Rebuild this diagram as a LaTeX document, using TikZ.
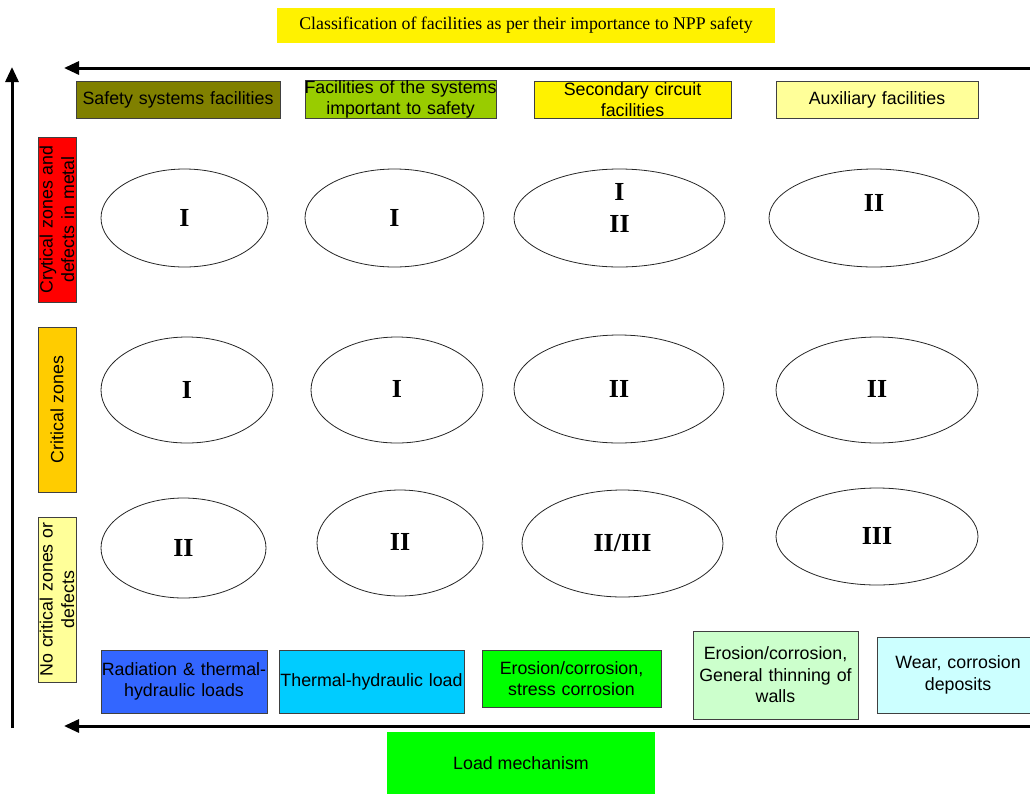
\documentclass[tikz,border=0pt]{standalone}
\usepackage{fontspec}
\setmainfont{Liberation Serif}
\setsansfont{Liberation Sans}
\usetikzlibrary{shapes.geometric,arrows.meta}
\tikzset{
  box/.style={draw=black!75, line width=0.9pt, inner sep=0pt, align=center,
    font=\sffamily\fontsize{17.8}{21.5}\selectfont},
  plain/.style={inner sep=0pt, align=center},
  ell/.style={ellipse, draw=black!85, line width=0.8pt, inner sep=0pt},
  num/.style={font=\bfseries\fontsize{26}{32}\selectfont, align=center},
  axis/.style={line width=3pt, -{Triangle[length=15pt,width=13pt]}},
}
\begin{document}
\begin{tikzpicture}[x=1pt,y=-1pt]
\useasboundingbox (0,0) rectangle (1030,793);
% title
\node[plain, fill=yellow, minimum width=498, minimum height=35,
  font=\fontsize{17.8}{20}\selectfont] (title) at (526,25.5)
  {Classification of facilities as per their importance to NPP safety};
% axes
\coordinate (topR) at (1032,68);
\coordinate (topL) at (64,68);
\coordinate (botR) at (1032,726);
\coordinate (botL) at (64,726);
\coordinate (vB) at (12,728);
\coordinate (vT) at (12,67);
\draw[axis] (topR) -- (topL);
\draw[axis] (botR) -- (botL);
\draw[axis] (vB) -- (vT);
% top boxes
\node[box, fill={rgb,255:red,128;green,128;blue,0}, minimum width=204, minimum height=37, text width=204] (c1) at (178,99.5) {Safety systems facilities};
\node[box, fill={rgb,255:red,153;green,204;blue,0}, minimum width=191, minimum height=37, text width=191] (c2) at (400.5,99.5) {\makebox[191pt]{Facilities of the systems}\\important to safety};
\node[box, fill=yellow, minimum width=197, minimum height=37, text width=197] (c3) at (632.5,99.5) {Secondary circuit\\facilities};
\node[box, fill={rgb,255:red,255;green,255;blue,153}, minimum width=202, minimum height=37, text width=202] (c4) at (877,99.5) {Auxiliary facilities};
% left boxes
\node[box, rotate=90, fill=red, minimum width=165, minimum height=38, text width=165] (r1) at (57,219.5) {Crytical zones and\\defects in metal};
\node[box, rotate=90, fill={rgb,255:red,255;green,204;blue,0}, minimum width=165, minimum height=38, text width=165] (r2) at (57,409.5) {Critical zones};
\node[box, rotate=90, fill={rgb,255:red,255;green,255;blue,153}, minimum width=165, minimum height=38, text width=165] (r3) at (57,599.5) {No critical zones or\\defects};
% ellipses row 1
\node[ell, minimum width=167, minimum height=98] (e11) at (184.5,218) {};
\node[num] (t11) at (184.5,218) {I};
\node[ell, minimum width=179, minimum height=98] (e12) at (394.5,218) {};
\node[num] (t12) at (394.5,218) {I};
\node[ell, minimum width=211, minimum height=98] (e13) at (619.5,218) {};
\node[num] (t13) at (619.5,208) {I\\II};
\node[ell, minimum width=210, minimum height=98] (e14) at (874,218) {};
\node[num] (t14) at (874,203) {II};
% row 2
\node[ell, minimum width=172, minimum height=106] (e21) at (187,390) {};
\node[num] (t21) at (187,390) {I};
\node[ell, minimum width=172, minimum height=106] (e22) at (397,390) {};
\node[num] (t22) at (397,389) {I};
\node[ell, minimum width=210, minimum height=108] (e23) at (619,389) {};
\node[num] (t23) at (619,389) {II};
\node[ell, minimum width=202, minimum height=106] (e24) at (877,390) {};
\node[num] (t24) at (877,389) {II};
% row 3
\node[ell, minimum width=165, minimum height=100] (e31) at (183.5,548) {};
\node[num] (t31) at (183.5,548) {II};
\node[ell, minimum width=166, minimum height=106] (e32) at (400,543) {};
\node[num] (t32) at (400,542) {II};
\node[ell, minimum width=201, minimum height=107] (e33) at (622.5,543.5) {};
\node[num] (t33) at (622.5,543) {II/III};
\node[ell, minimum width=202, minimum height=97] (e34) at (877,536.5) {};
\node[num] (t34) at (877,536) {III};
% bottom boxes
\node[box, fill={rgb,255:red,51;green,102;blue,255}, minimum width=166, minimum height=63, text width=166] (m1) at (184,681.5) {\makebox[166pt]{Radiation \& thermal-}\\hydraulic loads};
\node[box, fill={rgb,255:red,0;green,204;blue,255}, minimum width=185, minimum height=63, text width=185] (m2) at (371.5,681.5) {Thermal-hydraulic load};
\node[box, fill={rgb,255:red,0;green,255;blue,0}, minimum width=179, minimum height=57, text width=179] (m3) at (571.5,678.5) {Erosion/corrosion,\\stress corrosion};
\node[box, fill={rgb,255:red,204;green,255;blue,204}, minimum width=165, minimum height=88, text width=165] (m4) at (775.5,675) {Erosion/corrosion,\\General thinning of\\walls};
\node[box, fill={rgb,255:red,204;green,255;blue,255}, minimum width=162, minimum height=76, text width=162] (m5) at (958,675) {Wear, corrosion\\deposits};
% load mechanism
\node[plain, fill={rgb,255:red,0;green,255;blue,0}, minimum width=268, minimum height=62,
  font=\sffamily\fontsize{17.8}{21.5}\selectfont] (load) at (521,763) {Load mechanism};
\end{tikzpicture}
\end{document}
